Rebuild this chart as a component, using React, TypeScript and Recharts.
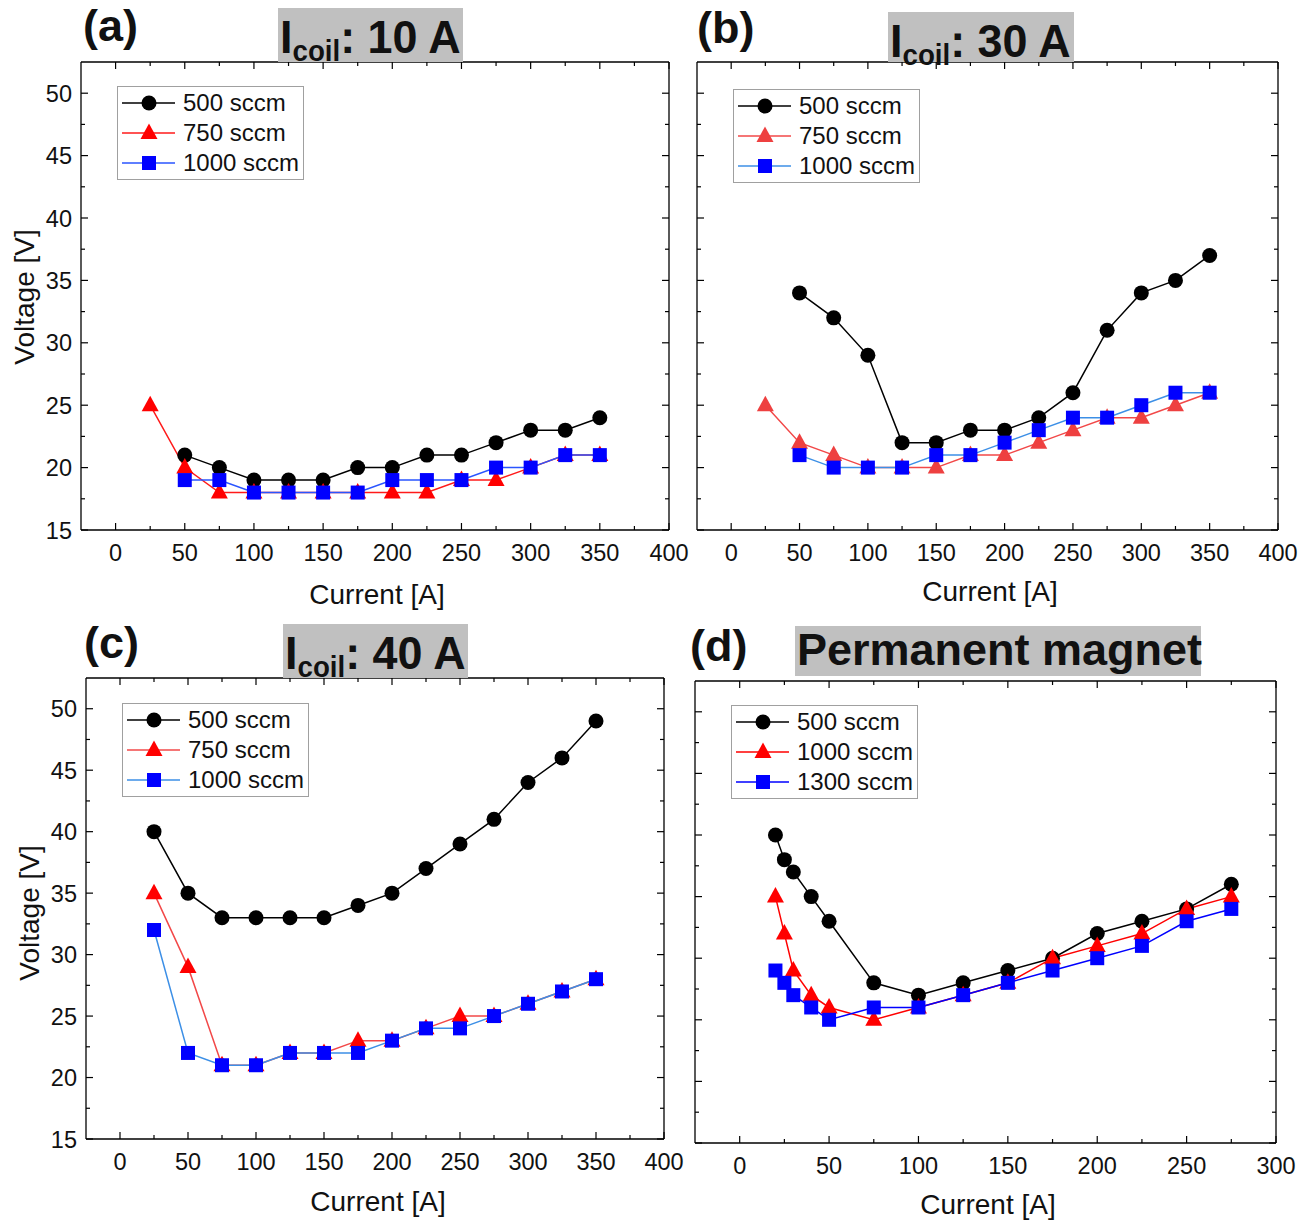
import React from 'react';
import { LineChart, Line, XAxis, YAxis, Legend } from 'recharts';

const FONT = '"Liberation Sans", Arial, Helvetica, sans-serif';

// discharge current [A]
const currentCoil = [25, 50, 75, 100, 125, 150, 175, 200, 225, 250, 275, 300, 325, 350];
const currentPM = [20, 25, 30, 40, 50, 75, 100, 125, 150, 175, 200, 225, 250, 275];

// (a) Icoil 10 A
const a500 = [null, 21, 20, 19, 19, 19, 20, 20, 21, 21, 22, 23, 23, 24];
const a750 = [25, 20, 18, 18, 18, 18, 18, 18, 18, 19, 19, 20, 21, 21];
const a1000 = [null, 19, 19, 18, 18, 18, 18, 19, 19, 19, 20, 20, 21, 21];

// (b) Icoil 30 A
const b500 = [null, 34, 32, 29, 22, 22, 23, 23, 24, 26, 31, 34, 35, 37];
const b750 = [25, 22, 21, 20, 20, 20, 21, 21, 22, 23, 24, 24, 25, 26];
const b1000 = [null, 21, 20, 20, 20, 21, 21, 22, 23, 24, 24, 25, 26, 26];

// (c) Icoil 40 A
const c500 = [40, 35, 33, 33, 33, 33, 34, 35, 37, 39, 41, 44, 46, 49];
const c750 = [35, 29, 21, 21, 22, 22, 23, 23, 24, 25, 25, 26, 27, 28];
const c1000 = [32, 22, 21, 21, 22, 22, 22, 23, 24, 24, 25, 26, 27, 28];

// (d) permanent magnet
const d500 = [40, 38, 37, 35, 33, 28, 27, 28, 29, 30, 32, 33, 34, 36];
const d1000 = [35, 32, 29, 27, 26, 25, 26, 27, 28, 30, 31, 32, 34, 35];
const d1300 = [29, 28, 27, 26, 25, 26, 26, 27, 28, 29, 30, 31, 33, 34];

const xTicks400 = [0, 25, 50, 75, 100, 125, 150, 175, 200, 225, 250, 275, 300, 325, 350, 375, 400];
const xTicks300 = [0, 25, 50, 75, 100, 125, 150, 175, 200, 225, 250, 275, 300];
const yTicks = [15, 17.5, 20, 22.5, 25, 27.5, 30, 32.5, 35, 37.5, 40, 42.5, 45, 47.5, 50];

type Shape = 'circle' | 'triangle' | 'square';
type Series = { key: string; name: string; values: (number | null)[]; line: string; fill: string; shape: Shape };

// space around the plot box (the 1px axes sit inside it)
const ML = 80;
const MT = 20;
const MR = 20;
const MB = 45;

function Marker({ shape, cx, cy, fill }: { shape: Shape; cx: number; cy: number; fill: string }) {
  if (shape === 'circle') return <circle cx={cx} cy={cy} r={7.5} fill={fill} />;
  if (shape === 'triangle')
    return <polygon points={`${cx},${cy - 9.5} ${cx + 8.5},${cy + 6} ${cx - 8.5},${cy + 6}`} fill={fill} />;
  return <rect x={cx - 7} y={cy - 7} width={14} height={14} fill={fill} />;
}

function LegendBox({ series }: { series: Series[] }) {
  return (
    <div style={{ border: '1px solid #a0a0a0', background: '#fff', padding: '1px 4px 1px 0', fontFamily: FONT, fontSize: 24, color: '#111' }}>
      {series.map((s) => (
        <div key={s.key} style={{ display: 'flex', alignItems: 'center', height: 30 }}>
          <svg width={62} height={30}>
            <line x1={4} x2={57} y1={15} y2={15} stroke={s.line} strokeWidth={1.5} />
            <Marker shape={s.shape} cx={31} cy={15} fill={s.fill} />
          </svg>
          <span style={{ marginLeft: 3, lineHeight: '30px', whiteSpace: 'nowrap' }}>{s.name}</span>
        </div>
      ))}
    </div>
  );
}

type PanelProps = {
  left: number; top: number; w: number; h: number;
  xDomain: [number, number]; xTicks: number[]; x: number[];
  showY: boolean; series: Series[]; legendDx: number; legendDy: number;
};

function Panel({ left, top, w, h, xDomain, xTicks, x, showY, series, legendDx, legendDy }: PanelProps) {
  const rows = x.map((xv, i) => {
    const r: Record<string, number | null> = { x: xv };
    series.forEach((s) => { r[s.key] = s.values[i]; });
    return r;
  });
  const axisLine = { stroke: '#000', strokeWidth: 1.3 };
  const bottomTick = (p: any) => {
    const major = p.payload.value % 50 === 0;
    return (
      <g>
        <line x1={p.x} x2={p.x} y1={p.y} y2={p.y - (major ? 7 : 4)} stroke="#000" strokeWidth={1.2} />
        {major && (
          <text x={p.x} y={p.y + 31} textAnchor="middle" fontFamily={FONT} fontSize={23.5} fill="#111">{p.payload.value}</text>
        )}
      </g>
    );
  };
  const topTick = (p: any) => {
    const major = p.payload.value % 50 === 0;
    return <line x1={p.x} x2={p.x} y1={p.y} y2={p.y + (major ? 7 : 4)} stroke="#000" strokeWidth={1.2} />;
  };
  const leftTick = (p: any) => {
    const major = p.payload.value % 5 === 0;
    return (
      <g>
        <line x1={p.x} x2={p.x + (major ? 7 : 4)} y1={p.y} y2={p.y} stroke="#000" strokeWidth={1.2} />
        {major && showY && (
          <text x={p.x - 9} y={p.y + 8.5} textAnchor="end" fontFamily={FONT} fontSize={23.5} fill="#111">{p.payload.value}</text>
        )}
      </g>
    );
  };
  const rightTick = (p: any) => {
    const major = p.payload.value % 5 === 0;
    return <line x1={p.x} x2={p.x - (major ? 7 : 4)} y1={p.y} y2={p.y} stroke="#000" strokeWidth={1.2} />;
  };
  return (
    <div style={{ position: 'absolute', left: left - ML, top: top - MT }}>
      <LineChart width={ML + w + MR} height={MT + h + MB} data={rows}
        margin={{ top: MT - 1, right: MR - 1, bottom: MB - 1, left: ML - 1 }}>
        <XAxis xAxisId="b" dataKey="x" type="number" domain={xDomain} allowDataOverflow ticks={xTicks} interval={0}
          orientation="bottom" height={1} tickSize={0} tickMargin={0} tickLine={false} axisLine={axisLine} tick={bottomTick} />
        <XAxis xAxisId="t" dataKey="x" type="number" domain={xDomain} allowDataOverflow ticks={xTicks} interval={0}
          orientation="top" height={1} tickSize={0} tickMargin={0} tickLine={false} axisLine={axisLine} tick={topTick} />
        <YAxis yAxisId="l" type="number" domain={[15, 52.5]} allowDataOverflow ticks={yTicks} interval={0}
          orientation="left" width={1} tickSize={0} tickMargin={0} tickLine={false} axisLine={axisLine} tick={leftTick} />
        <YAxis yAxisId="r" type="number" domain={[15, 52.5]} allowDataOverflow ticks={yTicks} interval={0}
          orientation="right" width={1} tickSize={0} tickMargin={0} tickLine={false} axisLine={axisLine} tick={rightTick} />
        <Legend layout="vertical" align="center" verticalAlign="middle"
          wrapperStyle={{ left: ML + legendDx, top: MT + legendDy, width: 'auto', height: 'auto' }}
          content={() => <LegendBox series={series} />} />
        {series.map((s) => (
          <Line key={s.key} xAxisId="b" yAxisId="l" dataKey={s.key} name={s.name} stroke={s.line} strokeWidth={1.5}
            isAnimationActive={false} activeDot={false} connectNulls
            dot={(p: any) => (p.value == null || p.cy == null)
              ? <g key={`${s.key}-${p.index}`} />
              : <Marker key={`${s.key}-${p.index}`} shape={s.shape} cx={p.cx} cy={p.cy} fill={s.fill} />} />
        ))}
      </LineChart>
    </div>
  );
}

const seriesA: Series[] = [
  { key: 's500', name: '500 sccm', values: a500, line: '#000', fill: '#000', shape: 'circle' },
  { key: 's750', name: '750 sccm', values: a750, line: '#ff1a1a', fill: '#ff0000', shape: 'triangle' },
  { key: 's1000', name: '1000 sccm', values: a1000, line: '#2a55ff', fill: '#0000ff', shape: 'square' },
];
const seriesB: Series[] = [
  { key: 's500', name: '500 sccm', values: b500, line: '#000', fill: '#000', shape: 'circle' },
  { key: 's750', name: '750 sccm', values: b750, line: '#f24848', fill: '#ee4040', shape: 'triangle' },
  { key: 's1000', name: '1000 sccm', values: b1000, line: '#3c8fe6', fill: '#0000ff', shape: 'square' },
];
const seriesC: Series[] = [
  { key: 's500', name: '500 sccm', values: c500, line: '#000', fill: '#000', shape: 'circle' },
  { key: 's750', name: '750 sccm', values: c750, line: '#f24848', fill: '#ff0000', shape: 'triangle' },
  { key: 's1000', name: '1000 sccm', values: c1000, line: '#3c8fe6', fill: '#0000ff', shape: 'square' },
];
const seriesD: Series[] = [
  { key: 's500', name: '500 sccm', values: d500, line: '#000', fill: '#000', shape: 'circle' },
  { key: 's1000', name: '1000 sccm', values: d1000, line: '#ff0000', fill: '#ff0000', shape: 'triangle' },
  { key: 's1300', name: '1300 sccm', values: d1300, line: '#0000ff', fill: '#0000ff', shape: 'square' },
];

const text = (extra: React.CSSProperties): React.CSSProperties => ({
  position: 'absolute', fontFamily: FONT, color: '#111', whiteSpace: 'nowrap', ...extra,
});

function CoilTitle({ left, top, width, height, amps }: { left: number; top: number; width: number; height: number; amps: string }) {
  return (
    <div style={{ position: 'absolute', left, top, width, height, background: '#c0c0c0' }}>
      <div style={text({ left: 2, top: 5, fontSize: 47, lineHeight: '47px', fontWeight: 'bold', transform: 'scaleX(0.955)', transformOrigin: 'left center' })}>
        I<span style={{ fontSize: 29, position: 'relative', top: 8 }}>coil</span>: {amps}
      </div>
    </div>
  );
}

function XTitle({ cx, cy }: { cx: number; cy: number }) {
  return <div style={text({ left: cx - 150, top: cy - 16, width: 300, height: 32, lineHeight: '32px', textAlign: 'center', fontSize: 28 })}>Current [A]</div>;
}

function YTitle({ cx, cy }: { cx: number; cy: number }) {
  return <div style={text({ left: cx - 100, top: cy - 16, width: 200, height: 32, lineHeight: '32px', textAlign: 'center', fontSize: 28, transform: 'rotate(-90deg)' })}>Voltage [V]</div>;
}

function Letter({ left, top, children }: { left: number; top: number; children: React.ReactNode }) {
  return <div style={text({ left, top, fontSize: 45, lineHeight: '45px', fontWeight: 'bold' })}>{children}</div>;
}

export default function App() {
  return (
    <div style={{ position: 'absolute', left: 0, top: 0, width: 1309, height: 1221, background: '#fff', overflow: 'hidden' }}>
      <Panel left={81} top={62} w={588} h={468} xDomain={[-25, 400]} xTicks={xTicks400} x={currentCoil} showY series={seriesA} legendDx={36} legendDy={24} />
      <Panel left={697} top={62} w={581} h={468} xDomain={[-25, 400]} xTicks={xTicks400} x={currentCoil} showY={false} series={seriesB} legendDx={36} legendDy={27} />
      <Panel left={86} top={678} w={578} h={461} xDomain={[-25, 400]} xTicks={xTicks400} x={currentCoil} showY series={seriesC} legendDx={36} legendDy={25} />
      <Panel left={695} top={681} w={581} h={462} xDomain={[-25, 300]} xTicks={xTicks300} x={currentPM} showY={false} series={seriesD} legendDx={36} legendDy={24} />

      <Letter left={83} top={3}>(a)</Letter>
      <Letter left={697} top={5}>(b)</Letter>
      <Letter left={84} top={620}>(c)</Letter>
      <Letter left={690} top={623}>(d)</Letter>

      <CoilTitle left={278} top={8} width={185} height={54} amps="10 A" />
      <CoilTitle left={888} top={12} width={186} height={50} amps="30 A" />
      <CoilTitle left={283} top={624} width={185} height={54} amps="40 A" />
      <div style={{ position: 'absolute', left: 795, top: 626, width: 406, height: 50, background: '#c0c0c0' }}>
        <div style={text({ left: 2, top: 1, fontSize: 45, lineHeight: '45px', fontWeight: 'bold' })}>Permanent magnet</div>
      </div>

      <YTitle cx={25} cy={297} />
      <YTitle cx={30} cy={913} />
      <XTitle cx={377} cy={595} />
      <XTitle cx={990} cy={592} />
      <XTitle cx={378} cy={1202} />
      <XTitle cx={988} cy={1205} />
    </div>
  );
}
